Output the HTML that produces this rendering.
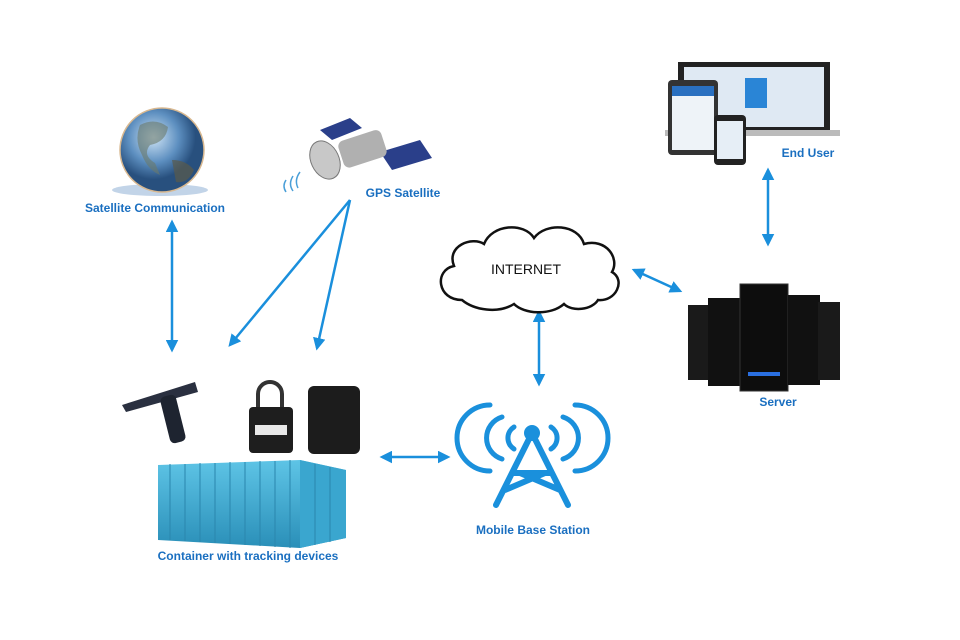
<!DOCTYPE html>
<html><head><meta charset="utf-8"><style>
html,body{margin:0;padding:0;background:#fff}
svg{display:block}
.l{font-family:"Liberation Sans",sans-serif;font-weight:bold;font-size:12px;fill:#1a6fc0;text-anchor:middle}
</style></head><body>
<svg width="960" height="640" viewBox="0 0 960 640" xmlns="http://www.w3.org/2000/svg">
<defs>
<marker id="a" viewBox="0 0 10 10" refX="8" refY="5" markerWidth="5" markerHeight="5" orient="auto-start-reverse"><path d="M0,0L10,5L0,10z" fill="#1a8fdc"/></marker>
<radialGradient id="g" cx="40%" cy="35%"><stop offset="0" stop-color="#cfe4f5"/><stop offset="0.6" stop-color="#5d8fc0"/><stop offset="1" stop-color="#28507e"/></radialGradient>
<linearGradient id="c" x1="0" y1="0" x2="0" y2="1"><stop offset="0" stop-color="#5ec4e6"/><stop offset="1" stop-color="#2a8fb8"/></linearGradient>
</defs>
<g stroke="#1a8fdc" stroke-width="2.5" fill="none" marker-start="url(#a)" marker-end="url(#a)">
<line x1="172" y1="222" x2="172" y2="350"/>
<line x1="539" y1="312" x2="539" y2="384"/>
<line x1="634" y1="270" x2="680" y2="291"/>
<line x1="768" y1="170" x2="768" y2="244"/>
<line x1="382" y1="457" x2="448" y2="457"/>
</g>
<g stroke="#1a8fdc" stroke-width="2.5" fill="none" marker-end="url(#a)">
<line x1="350" y1="200" x2="230" y2="345"/>
<line x1="350" y1="200" x2="317" y2="348"/>
</g>
<ellipse cx="160" cy="190" rx="48" ry="6" fill="#9ab8d8" opacity="0.6"/>
<circle cx="162" cy="150" r="42" fill="url(#g)" stroke="#d8b890" stroke-width="1.5"/>
<path d="M140,125 q15,-8 28,2 q-2,15 -18,18 q-8,10 5,18 l5,12 q-12,-5 -18,-20 q-8,-15 -2,-30z" fill="#6a7a6a" opacity="0.6"/>
<path d="M172,160 q14,0 22,10 q-6,14 -18,12 z" fill="#5a5a4a" opacity="0.7"/>
<text class="l" x="155" y="212">Satellite Communication</text>
<g>
<polygon points="320,130 350,118 362,128 332,140" fill="#2a3f8a"/>
<polygon points="380,152 420,140 432,158 392,170" fill="#2a3f8a"/>
<rect x="340" y="135" width="45" height="28" rx="6" fill="#b0b0b0" transform="rotate(-18 362 149)"/>
<ellipse cx="325" cy="160" rx="14" ry="20" fill="#c8c8c8" stroke="#777" transform="rotate(-25 325 160)"/>
<path d="M300,172 q-6,8 -2,16 M293,176 q-5,8 0,15 M286,180 q-4,6 0,12" stroke="#4a9fd8" stroke-width="1.5" fill="none"/>
</g>
<text class="l" x="403" y="197">GPS Satellite</text>
<path d="M462,300 c-25,0 -28,-30 -8,-34 c-8,-20 18,-30 30,-22 c8,-20 40,-22 50,-6 c12,-16 44,-14 50,6 c22,-6 36,14 28,28 c14,8 4,30 -14,28 c-6,10 -26,12 -34,4 c-14,12 -40,10 -50,0 c-16,10 -40,6 -52,-4z" fill="#fff" stroke="#111" stroke-width="2.5"/>
<text x="526" y="274" font-family="Liberation Sans,sans-serif" font-size="14" fill="#111" text-anchor="middle">INTERNET</text>
<g>
<rect x="678" y="62" width="152" height="68" fill="#222"/>
<rect x="684" y="67" width="140" height="60" fill="#dfe9f3"/>
<rect x="665" y="130" width="175" height="6" fill="#bbb"/>
<rect x="668" y="80" width="50" height="75" rx="4" fill="#333"/>
<rect x="672" y="86" width="42" height="64" fill="#eef3f8"/>
<rect x="672" y="86" width="42" height="10" fill="#2a70c0"/>
<rect x="714" y="115" width="32" height="50" rx="4" fill="#222"/>
<rect x="717" y="121" width="26" height="38" fill="#e6eef6"/>
<rect x="745" y="78" width="22" height="30" fill="#2a85d6"/>
</g>
<text class="l" x="808" y="157">End User</text>
<g>
<rect x="688" y="305" width="22" height="75" fill="#1a1a1a"/>
<rect x="708" y="298" width="32" height="88" fill="#111"/>
<rect x="740" y="284" width="48" height="107" fill="#0d0d0d" stroke="#333"/>
<rect x="788" y="295" width="32" height="90" fill="#111"/>
<rect x="818" y="302" width="22" height="78" fill="#1a1a1a"/>
<rect x="748" y="372" width="32" height="4" fill="#2a6fe0"/>
</g>
<text class="l" x="778" y="406">Server</text>
<g stroke="#1a90dc" fill="none" stroke-width="5" stroke-linecap="round">
<path d="M514,427 a13,13 0 0 0 0,22 M551,427 a13,13 0 0 1 0,22"/>
<path d="M502,417 a22,22 0 0 0 0,42 M563,417 a22,22 0 0 1 0,42"/>
<path d="M490,405 a33,33 0 0 0 0,66 M575,405 a33,33 0 0 1 0,66"/>
<path d="M530,437 L496,505 M534,437 L568,505 M513,473 L552,473 M505,490 L545,473 M560,490 L520,473" stroke-width="6"/>
</g>
<circle cx="532" cy="433" r="8" fill="#1a90dc"/>
<text class="l" x="533" y="534">Mobile Base Station</text>
<g>
<polygon points="122,405 195,382 198,392 126,412" fill="#2a3040"/>
<rect x="165" y="395" width="16" height="48" rx="5" fill="#1e2430" transform="rotate(-14 173 419)"/>
<path d="M258,408 v-14 a12,12 0 0 1 24,0 v14" stroke="#333" stroke-width="4" fill="none"/>
<rect x="249" y="407" width="44" height="46" rx="4" fill="#1e1e1e"/>
<rect x="255" y="425" width="32" height="10" fill="#e8e8e8"/>
<rect x="308" y="386" width="52" height="68" rx="6" fill="#1c1c1c"/>
</g>
<g>
<polygon points="158,465 300,460 346,470 346,538 300,548 158,540" fill="url(#c)"/>
<polygon points="300,460 346,470 346,538 300,548" fill="#3aa6cf"/>
<g stroke="#2a86ad" stroke-width="1">
<line x1="170" y1="464" x2="170" y2="540"/><line x1="185" y1="464" x2="185" y2="541"/>
<line x1="200" y1="463" x2="200" y2="542"/><line x1="215" y1="463" x2="215" y2="543"/>
<line x1="230" y1="462" x2="230" y2="544"/><line x1="245" y1="462" x2="245" y2="545"/>
<line x1="260" y1="461" x2="260" y2="546"/><line x1="275" y1="461" x2="275" y2="547"/>
<line x1="290" y1="460" x2="290" y2="548"/><line x1="315" y1="464" x2="315" y2="545"/><line x1="330" y1="467" x2="330" y2="542"/>
</g>
</g>
<text class="l" x="248" y="560">Container with tracking devices</text>
</svg>
</body></html>
